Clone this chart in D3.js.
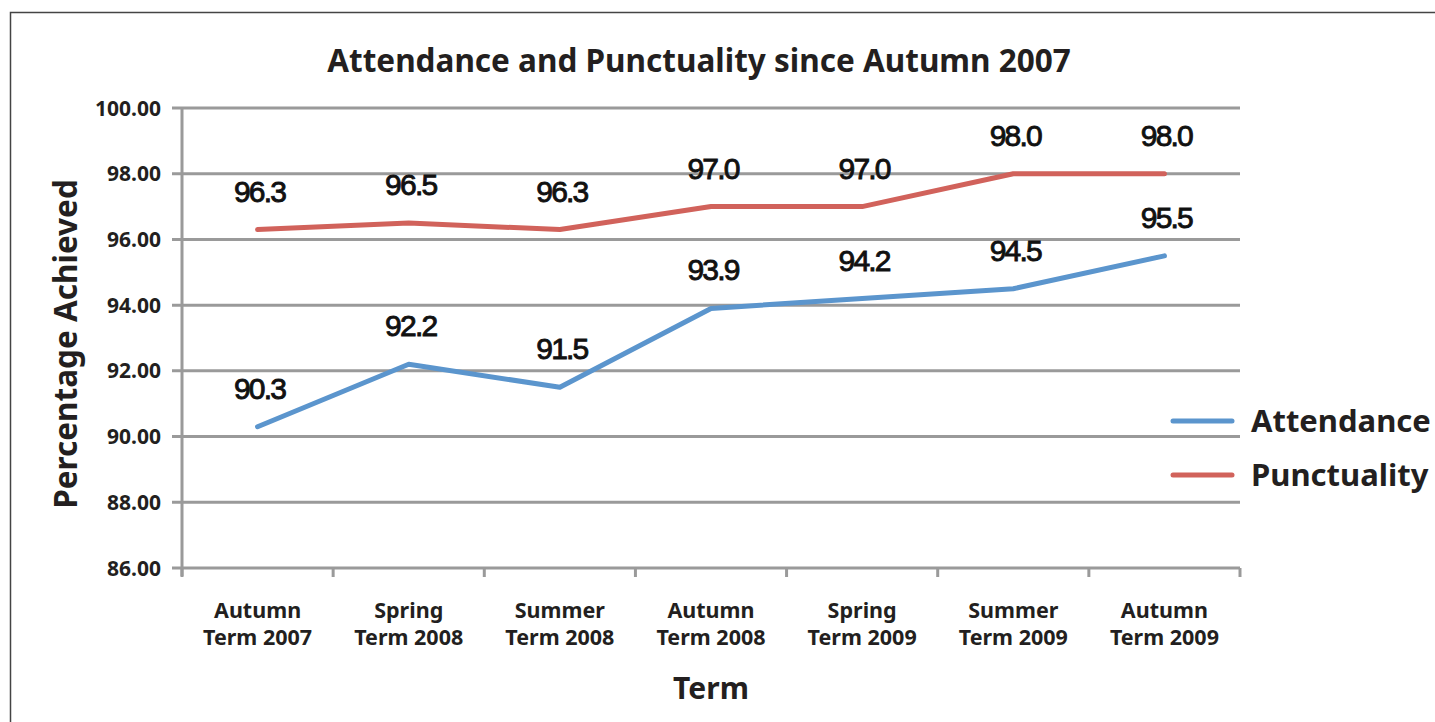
<!DOCTYPE html>
<html>
<head>
<meta charset="utf-8">
<script src="https://cdn.jsdelivr.net/npm/d3@7"></script>
<style>
  html, body { margin: 0; padding: 0; background: #fff; }
  #chart { width: 1435px; height: 722px; }
  .ax text { font-family: "Noto Sans", "Open Sans", sans-serif; font-weight: bold; fill: #231f20; }
</style>
</head>
<body>
<div id="chart"></div>
<script>
// data
const terms = [
  ["Autumn", "Term 2007"],
  ["Spring", "Term 2008"],
  ["Summer", "Term 2008"],
  ["Autumn", "Term 2008"],
  ["Spring", "Term 2009"],
  ["Summer", "Term 2009"],
  ["Autumn", "Term 2009"]
];
const attendance = [90.3, 92.2, 91.5, 93.9, 94.2, 94.5, 95.5];
const punctuality = [96.3, 96.5, 96.3, 97.0, 97.0, 98.0, 98.0];
const yTicks = [86, 88, 90, 92, 94, 96, 98, 100];

const series = [
  { name: "Attendance", values: attendance, color: "#5b95cd" },
  { name: "Punctuality", values: punctuality, color: "#d1625b" }
];

const width = 1435, height = 722;
const margin = { top: 108, right: 195, bottom: 154, left: 182 };
const plotW = width - margin.left - margin.right;
const plotH = height - margin.top - margin.bottom;

const svg = d3.select("#chart").append("svg")
  .attr("width", width)
  .attr("height", height);

// outer frame
svg.append("rect")
  .attr("x", 10.5).attr("y", 12.5)
  .attr("width", 1440).attr("height", 720)
  .attr("fill", "none")
  .attr("stroke", "#444")
  .attr("stroke-width", 1.5);

const g = svg.append("g").attr("transform", `translate(${margin.left},${margin.top})`);

const idx = terms.map((d, i) => i);
const x = d3.scaleBand().domain(idx).range([0, plotW]);
const y = d3.scaleLinear().domain([86, 100]).range([plotH, 0]);

// gridlines
g.append("g")
  .selectAll("line")
  .data(yTicks)
  .join("line")
  .attr("x1", -10).attr("x2", plotW)
  .attr("y1", d => y(d)).attr("y2", d => y(d))
  .attr("stroke", "#9a9a9a")
  .attr("stroke-width", 3);

// y axis line
g.append("line")
  .attr("x1", 0).attr("x2", 0)
  .attr("y1", 0).attr("y2", plotH + 8)
  .attr("stroke", "#9a9a9a")
  .attr("stroke-width", 3);

// x ticks
g.append("g")
  .selectAll("line")
  .data(d3.range(terms.length + 1))
  .join("line")
  .attr("x1", d => d * x.step()).attr("x2", d => d * x.step())
  .attr("y1", plotH).attr("y2", plotH + 9)
  .attr("stroke", "#9a9a9a")
  .attr("stroke-width", 3);

// y tick labels
const ax = svg.append("g").attr("class", "ax");
ax.selectAll(".ylab")
  .data(yTicks)
  .join("text")
  .attr("x", margin.left - 21)
  .attr("y", d => margin.top + y(d))
  .attr("dy", "0.36em")
  .attr("text-anchor", "end")
  .attr("font-size", 21)
  .text(d => d.toFixed(2));

// x labels
const xl = ax.selectAll(".xlab")
  .data(terms)
  .join("text")
  .attr("text-anchor", "middle")
  .attr("font-size", 21.5)
  .attr("x", (d, i) => margin.left + x(i) + x.bandwidth() / 2)
  .attr("y", 618);
xl.append("tspan").text(d => d[0]);
xl.append("tspan")
  .attr("x", (d, i) => margin.left + x(i) + x.bandwidth() / 2)
  .attr("dy", 27)
  .text(d => d[1]);

// titles
ax.append("text")
  .attr("x", 699).attr("y", 72)
  .attr("text-anchor", "middle")
  .attr("font-size", 31.5)
  .text("Attendance and Punctuality since Autumn 2007");

ax.append("text")
  .attr("x", 711).attr("y", 699)
  .attr("text-anchor", "middle")
  .attr("font-size", 30)
  .text("Term");

ax.append("text")
  .attr("transform", "translate(77,344) rotate(-90)")
  .attr("text-anchor", "middle")
  .attr("font-size", 31.5)
  .text("Percentage Achieved");

// lines
const line = d3.line()
  .x((d, i) => x(i) + x.bandwidth() / 2)
  .y(d => y(d));

series.forEach(s => {
  g.append("path")
    .attr("d", line(s.values))
    .attr("fill", "none")
    .attr("stroke", s.color)
    .attr("stroke-width", 5)
    .attr("stroke-linecap", "round")
    .attr("stroke-linejoin", "round");

  g.append("g")
    .selectAll("text")
    .data(s.values)
    .join("text")
    .attr("x", (d, i) => x(i) + x.bandwidth() / 2 + 2)
    .attr("y", d => y(d) - 28)
    .attr("text-anchor", "middle")
    .attr("font-family", "'Liberation Sans', Arial, sans-serif")
    .attr("font-size", 30)
    .attr("letter-spacing", "-1.8px")
    .attr("fill", "#111")
    .attr("stroke", "#111")
    .attr("stroke-width", 0.9)
    .text(d => d.toFixed(1));
});

// legend
const leg = svg.append("g").attr("class", "ax");
series.forEach((s, i) => {
  const ly = 421 + i * 54;
  leg.append("line")
    .attr("x1", 1173).attr("x2", 1232)
    .attr("y1", ly).attr("y2", ly)
    .attr("stroke", s.color)
    .attr("stroke-width", 5)
    .attr("stroke-linecap", "round");
  leg.append("text")
    .attr("x", 1251).attr("y", ly)
    .attr("dy", "0.36em")
    .attr("font-size", 31)
    .text(s.name);
});
</script>
</body>
</html>
